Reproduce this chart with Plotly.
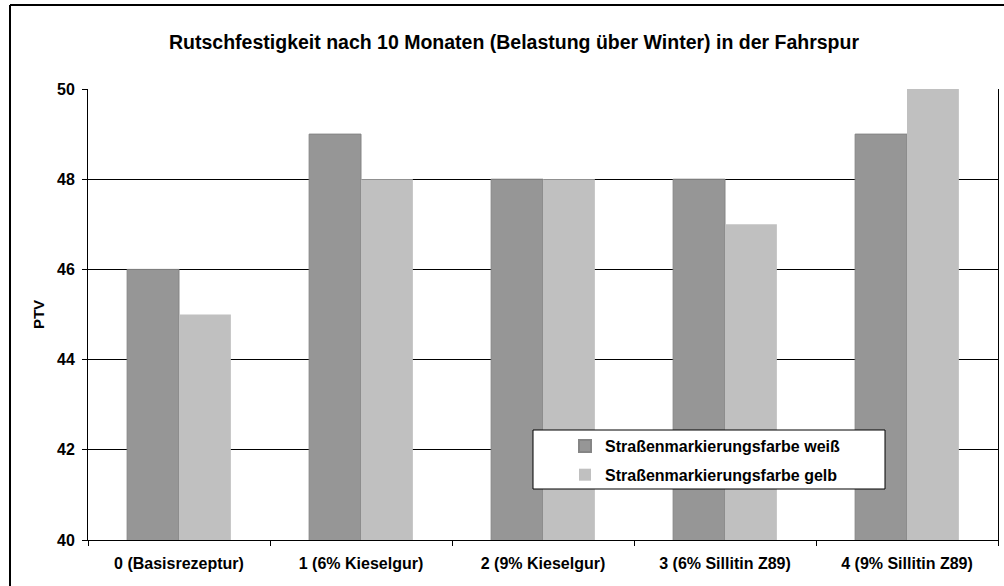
import plotly.graph_objects as go

categories = ["0 (Basisrezeptur)", "1 (6% Kieselgur)", "2 (9% Kieselgur)",
              "3 (6% Sillitin Z89)", "4 (9% Sillitin Z89)"]
weiss = [46, 49, 48, 48, 49]
gelb = [45, 48, 48, 47, 50]
series_names = ["Straßenmarkierungsfarbe weiß", "Straßenmarkierungsfarbe gelb"]
y_ticks = [40, 42, 44, 46, 48, 50]
title = "Rutschfestigkeit nach 10 Monaten (Belastung über Winter) in der Fahrspur"

FONT = "Arial, Liberation Sans, sans-serif"

fig = go.Figure()
fig.add_trace(go.Bar(x=categories, y=weiss, name=series_names[0], legendgroup="a",
                     marker=dict(color="#969696", line=dict(color="#858585", width=1))))
fig.add_trace(go.Bar(x=categories, y=gelb, name=series_names[1], legendgroup="b",
                     marker=dict(color="#C0C0C0", line=dict(color="#C0C0C0", width=0))))

W, H = 1004, 586
L, R, T, B = 88, 6, 89, 46
pw, ph = W - L - R, H - T - B

def px(x):
    return (x - L) / pw

def py(y):
    return (H - B - y) / ph

fig.update_layout(
    width=W, height=H,
    margin=dict(l=L, r=R, t=T, b=B),
    paper_bgcolor="white", plot_bgcolor="white",
    barmode="group", bargap=0.43, bargroupgap=0,
    font=dict(family=FONT, size=16, color="black", weight="bold"),
    title=dict(text=title, x=0.512, xanchor="center", y=1 - 42 / H, yanchor="middle",
               font=dict(family=FONT, size=19.5, color="black", weight="bold")),
    showlegend=True,
    legend=dict(x=px(565), y=py(429), xanchor="left", yanchor="top",
                bgcolor="rgba(0,0,0,0)", borderwidth=0, itemwidth=30,
                font=dict(family=FONT, size=16, color="black", weight="bold"),
                itemsizing="constant", tracegroupgap=5),
    shapes=[
        dict(type="rect", xref="paper", yref="paper",
             x0=px(533), x1=px(885), y0=py(489), y1=py(430),
             line=dict(color="black", width=1), fillcolor="white", layer="above"),
        dict(type="line", xref="paper", yref="paper",
             x0=px(10), x1=px(1010), y0=py(5), y1=py(5),
             line=dict(color="black", width=2)),
        dict(type="line", xref="paper", yref="paper",
             x0=px(10), x1=px(10), y0=py(5), y1=py(600),
             line=dict(color="black", width=2)),
    ],
)

fig.update_yaxes(range=[40, 50], tickvals=y_ticks, showgrid=True, gridcolor="black",
                 gridwidth=1, showline=True, linecolor="black", linewidth=1, mirror=True,
                 ticks="outside", ticklen=5, tickcolor="black", ticklabelstandoff=4,
                 tickfont=dict(family=FONT, size=16, color="black", weight="bold"),
                 title=dict(text="PTV", standoff=8,
                            font=dict(family=FONT, size=15, color="black", weight="bold")),
                 zeroline=False)
fig.update_xaxes(showline=True, linecolor="black", linewidth=1,
                 ticks="outside", tickson="boundaries", ticklen=5, tickcolor="black",
                 ticklabelstandoff=9,
                 tickfont=dict(family=FONT, size=16, color="black", weight="bold"),
                 showgrid=False)

fig.write_html("out.html", config={"displayModeBar": False},
               post_script="document.body.style.margin='0';")
